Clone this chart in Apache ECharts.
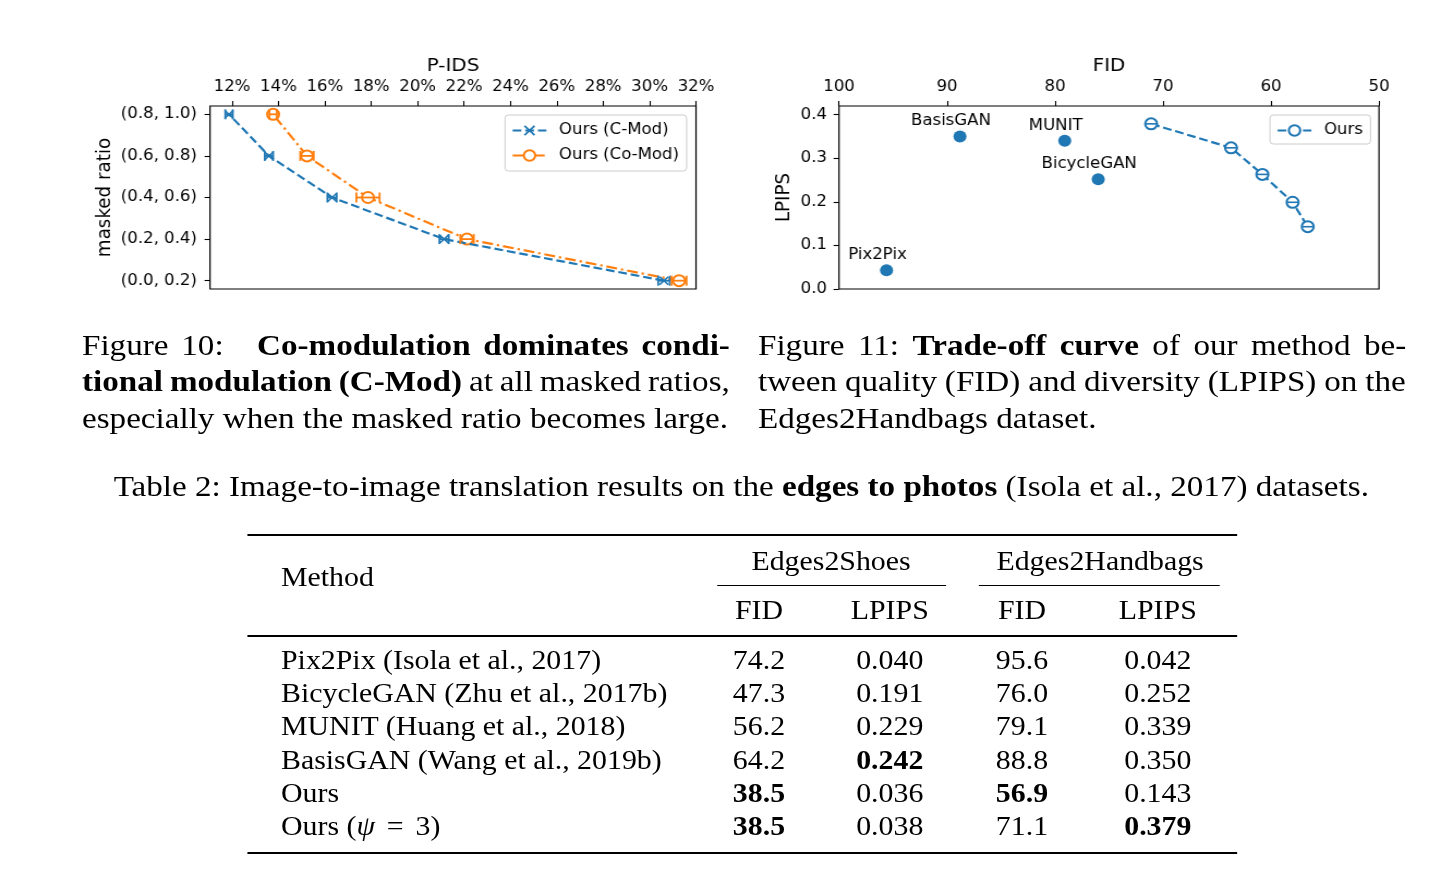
<!DOCTYPE html>
<html>
<head>
<meta charset="utf-8">
<script src="https://cdn.jsdelivr.net/npm/echarts@6/dist/echarts.min.js"></script>
<style>
  html, body { margin: 0; padding: 0; background: #fff; width: 1435px; height: 892px; overflow: hidden; }
  #page { position: absolute; left: 0; top: 0; width: 1317px; height: 892px; transform: scaleX(1.09); transform-origin: 0 0; }
  #chart { position: absolute; left: 0; top: 0; width: 1317px; height: 315px; }
  .serif { font-family: 'Liberation Serif', 'Times New Roman', serif; color: #000; }
  .abs { position: absolute; white-space: nowrap; }
  .rule { position: absolute; background: #000; }
</style>
</head>
<body>
<div id="page">
  <div id="chart"></div>
  <div id="text" class="serif"></div>
</div>
<script>
// ---------------- data ----------------
const maskCats = ['(0.0, 0.2)', '(0.2, 0.4)', '(0.4, 0.6)', '(0.6, 0.8)', '(0.8, 1.0)'];
const maskIdx = [0, 1, 2, 3, 4];
const cmodPIDS = [30.62, 21.14, 16.31, 13.59, 11.87];
const cmodErr = [0.25, 0.20, 0.20, 0.18, 0.16];
const comodPIDS = [31.27, 22.13, 17.86, 15.23, 13.77];
const comodErr = [0.32, 0.29, 0.50, 0.29, 0.16];
const pidsTicks = [12, 14, 16, 18, 20, 22, 24, 26, 28, 30, 32];

const baseNames = ['Pix2Pix', 'BicycleGAN', 'MUNIT', 'BasisGAN'];
const baseFID = [95.6, 76.0, 79.1, 88.8];
const baseLPIPS = [0.043, 0.252, 0.340, 0.350];
const oursFID = [71.1, 63.7, 60.8, 58.0, 56.6];
const oursLPIPS = [0.379, 0.324, 0.263, 0.199, 0.143];
const lpipsTicks = [0, 0.1, 0.2, 0.3, 0.4];

const tblMethods = ['Pix2Pix (Isola et al., 2017)', 'BicycleGAN (Zhu et al., 2017b)', 'MUNIT (Huang et al., 2018)',
  'BasisGAN (Wang et al., 2019b)', 'Ours', 'Ours (<i>ψ</i> <span style="margin:0 4px">=</span> 3)'];
const shoesFID = ['74.2', '47.3', '56.2', '64.2', '38.5', '38.5'];
const shoesLPIPS = ['0.040', '0.191', '0.229', '0.242', '0.036', '0.038'];
const bagsFID = ['95.6', '76.0', '79.1', '88.8', '56.9', '71.1'];
const bagsLPIPS = ['0.042', '0.252', '0.339', '0.350', '0.143', '0.379'];
const boldCells = [[3, 1], [4, 0], [4, 2], [5, 0], [5, 3]];

// ---------------- chart ----------------
const S = 1.09;
const X = v => v / S;
const BLUE = '#1f77b4', ORANGE = '#ff7f0e';
const xPath = 'path://M0,1.2L1.2,0L5,3.8L8.8,0L10,1.2L6.2,5L10,8.8L8.8,10L5,6.2L1.2,10L0,8.8L3.8,5Z';
const TICK = 15.2, NAME = 18.3;

function errRender(color) {
  return function (params, api) {
    const x = api.value(0), y = api.value(1), e = api.value(2);
    const p1 = api.coord([x - e, y]), p2 = api.coord([x + e, y]);
    const st = { stroke: color, lineWidth: 1.8 };
    return { type: 'group', children: [
      { type: 'line', shape: { x1: p1[0], y1: p1[1], x2: p2[0], y2: p2[1] }, style: st },
      { type: 'line', shape: { x1: p1[0], y1: p1[1] - 5, x2: p1[0], y2: p1[1] + 5 }, style: st },
      { type: 'line', shape: { x1: p2[0], y1: p2[1] - 5, x2: p2[0], y2: p2[1] + 5 }, style: st }
    ] };
  };
}
function barRender(color) {
  return function (params, api) {
    const p = api.coord([api.value(0), api.value(1)]);
    return { type: 'line', shape: { x1: p[0] - 5, y1: p[1], x2: p[0] + 5, y2: p[1] }, style: { stroke: color, lineWidth: 1.6 } };
  };
}

const axisCommon = {
  axisLine: { show: false, onZero: false },
  splitLine: { show: false },
  nameTextStyle: { fontSize: NAME, color: '#000', fontFamily: 'DejaVu Sans' },
};
const tickStyle = { show: true, length: 5, lineStyle: { color: '#000', width: 1.1 } };
const labelStyle = { fontSize: TICK, color: '#000', fontFamily: 'DejaVu Sans' };
const ylabelStyle = Object.assign({}, labelStyle, { padding: [3, 0, 0, 0] });

const legendCommon = {
  orient: 'vertical', padding: [8, 7, 8, 6], itemGap: 10, itemWidth: 31, itemHeight: 13,
  backgroundColor: 'rgba(255,255,255,0.8)', borderColor: '#cccccc', borderWidth: 1, borderRadius: 3,
  selectedMode: false,
  textStyle: { fontSize: TICK, color: '#000', fontFamily: 'DejaVu Sans', padding: [0, 0, 0, 6.5] }
};

const option = {
  animation: false,
  textStyle: { fontFamily: 'DejaVu Sans' },
  grid: [
    { left: X(210), top: 106, width: X(696) - X(210), height: 183, show: true, borderColor: '#000', borderWidth: 1.2 },
    { left: X(839), top: 106, width: X(1379) - X(839), height: 183, show: true, borderColor: '#000', borderWidth: 1.2 }
  ],
  legend: [
    Object.assign({}, legendCommon, { data: ['Ours (C-Mod)', 'Ours (Co-Mod)'], left: X(505), top: 115 }),
    Object.assign({}, legendCommon, { data: ['Ours'], left: X(1270), top: 115, padding: [8, 7, 6, 6] })
  ],
  xAxis: [
    Object.assign({}, axisCommon, {
      gridIndex: 0, type: 'value', position: 'top', min: 11.05, max: 32,
      name: 'P-IDS', nameLocation: 'middle', nameGap: 31,
      axisTick: Object.assign({}, tickStyle, { customValues: pidsTicks }),
      axisLabel: Object.assign({}, labelStyle, { customValues: pidsTicks, formatter: v => v + '%', margin: 11 })
    }),
    Object.assign({}, axisCommon, {
      gridIndex: 1, type: 'value', position: 'top', inverse: true, min: 50, max: 100, interval: 10,
      name: 'FID', nameLocation: 'middle', nameGap: 31,
      axisTick: tickStyle,
      axisLabel: Object.assign({}, labelStyle, { margin: 11 })
    })
  ],
  yAxis: [
    Object.assign({}, axisCommon, {
      gridIndex: 0, type: 'value', min: -0.2, max: 4.2,
      name: 'masked ratio', nameLocation: 'middle', nameGap: 87,
      axisTick: Object.assign({}, tickStyle, { customValues: maskIdx }),
      axisLabel: Object.assign({}, ylabelStyle, { customValues: maskIdx, formatter: v => maskCats[Math.round(v)], margin: 12 })
    }),
    Object.assign({}, axisCommon, {
      gridIndex: 1, type: 'value', min: 0, max: 0.42,
      name: 'LPIPS', nameLocation: 'middle', nameGap: 41,
      axisTick: Object.assign({}, tickStyle, { customValues: lpipsTicks }),
      axisLabel: Object.assign({}, ylabelStyle, { customValues: lpipsTicks, formatter: v => v.toFixed(1), margin: 11 })
    })
  ],
  series: [
    {
      name: 'Ours (C-Mod)', type: 'line', xAxisIndex: 0, yAxisIndex: 0, z: 3,
      data: cmodPIDS.map((v, i) => [v, maskIdx[i]]),
      symbol: xPath, symbolSize: 9,
      lineStyle: { color: BLUE, width: 2.2, type: [8, 3.6] },
      itemStyle: { color: BLUE }
    },
    {
      name: 'Ours (Co-Mod)', type: 'line', xAxisIndex: 0, yAxisIndex: 0, z: 2,
      data: comodPIDS.map((v, i) => [v, maskIdx[i]]),
      symbol: 'emptyCircle', symbolSize: 11,
      lineStyle: { color: ORANGE, width: 2.2, type: [10, 3.6, 2.2, 3.6] },
      itemStyle: { color: ORANGE, borderColor: ORANGE, borderWidth: 1.8 }
    },
    {
      type: 'custom', xAxisIndex: 0, yAxisIndex: 0, z: 4, silent: true,
      data: cmodPIDS.map((v, i) => [v, maskIdx[i], cmodErr[i]]),
      encode: { x: 0, y: 1 }, renderItem: errRender(BLUE)
    },
    {
      type: 'custom', xAxisIndex: 0, yAxisIndex: 0, z: 4, silent: true,
      data: comodPIDS.map((v, i) => [v, maskIdx[i], comodErr[i]]),
      encode: { x: 0, y: 1 }, renderItem: errRender(ORANGE)
    },
    {
      name: 'baselines', type: 'scatter', xAxisIndex: 1, yAxisIndex: 1,
      data: baseFID.map((v, i) => ({ name: baseNames[i], value: [v, baseLPIPS[i]] })),
      symbolSize: 12, itemStyle: { color: BLUE, opacity: 1 },
      label: { show: true, formatter: '{b}', position: 'top', distance: 1.5, offset: [-8.3, 0],
        fontSize: TICK, color: '#000', fontFamily: 'DejaVu Sans' }
    },
    {
      name: 'Ours', type: 'line', xAxisIndex: 1, yAxisIndex: 1,
      data: oursFID.map((v, i) => [v, oursLPIPS[i]]),
      symbol: 'emptyCircle', symbolSize: 11,
      lineStyle: { color: BLUE, width: 2.2, type: [8, 3.6] },
      itemStyle: { color: BLUE, borderColor: BLUE, borderWidth: 1.6 }
    },
    {
      type: 'custom', xAxisIndex: 1, yAxisIndex: 1, z: 4, silent: true,
      data: oursFID.map((v, i) => [v, oursLPIPS[i]]),
      encode: { x: 0, y: 1 }, renderItem: barRender(BLUE)
    }
  ]
};
const chart = echarts.init(document.getElementById('chart'), null, { renderer: 'canvas' });
chart.setOption(option);

// ---------------- captions & table ----------------
const T = document.getElementById('text');
function addText(html, opts) {
  const d = document.createElement('div');
  d.className = 'abs';
  d.style.fontSize = opts.fs + 'px';
  d.style.lineHeight = (opts.lh || opts.fs) + 'px';
  d.style.top = opts.top + 'px';
  d.innerHTML = html;
  T.appendChild(d);
  if (opts.center !== undefined) {
    const w = d.offsetWidth;
    d.style.left = (opts.center - w / 2) + 'px';
  } else {
    d.style.left = opts.left + 'px';
  }
  if (opts.justify) {
    const w = d.offsetWidth;
    const n = (d.textContent.match(/ /g) || []).length;
    if (n > 0) d.style.wordSpacing = ((opts.justify - w) / n) + 'px';
  }
  return d;
}
function addRule(x1, x2, y, h) {
  const r = document.createElement('div');
  r.className = 'rule';
  r.style.left = x1 + 'px'; r.style.width = (x2 - x1) + 'px';
  r.style.top = y + 'px'; r.style.height = h + 'px';
  T.appendChild(r);
}

const CAP = 30.4, CAPLH = 36.5;
const cap1 = [
  'Figure 10:<span style="display:inline-block;width:19px"></span> <b>Co-modulation dominates condi-</b>',
  '<b>tional modulation (C-Mod)</b> at all masked ratios,',
  'especially when the masked ratio becomes large.'
];
const cap2 = [
  'Figure 11: <b>Trade-off curve</b> of our method be-',
  'tween quality (FID) and diversity (LPIPS) on the',
  'Edges2Handbags dataset.'
];
const capTop = 326.5;
cap1.forEach((s, i) => addText(s, { fs: CAP, lh: CAPLH, top: capTop + i * CAPLH, left: X(82), justify: i < 2 ? X(730) - X(82) : undefined }));
cap2.forEach((s, i) => addText(s, { fs: CAP, lh: CAPLH, top: capTop + i * CAPLH, left: X(758), justify: i < 2 ? X(1406) - X(758) : undefined }));

addText('Table 2: Image-to-image translation results on the <b>edges to photos</b> (Isola et al., 2017) datasets.',
  { fs: CAP, lh: CAPLH, top: 486 - 18.5, center: X(741.5) });

const TF = 27.4;
const TL = X(247), TR = X(1237);
addRule(TL, TR, 533.5, 2.6);
addRule(X(717), X(946), 585, 1.0);
addRule(X(979), X(1220), 585, 1.0);
addRule(TL, TR, 635, 1.6);
addRule(TL, TR, 851.5, 2.6);

const off = 13;
const colC = [X(759), X(890), X(1022), X(1158)];
addText('Method', { fs: TF, top: 577 - off, left: X(281) });
addText('Edges2Shoes', { fs: TF, top: 561 - off, center: X(831) });
addText('Edges2Handbags', { fs: TF, top: 561 - off, center: X(1100) });
['FID', 'LPIPS', 'FID', 'LPIPS'].forEach((h, j) => addText(h, { fs: TF, top: 610 - off, center: colC[j] }));

const rowY = [660, 693.2, 726.4, 759.6, 792.8, 826];
const cols = [shoesFID, shoesLPIPS, bagsFID, bagsLPIPS];
tblMethods.forEach((m, i) => {
  addText(m, { fs: TF, top: rowY[i] - off, left: X(281) });
  cols.forEach((c, j) => {
    const bold = boldCells.some(b => b[0] === i && b[1] === j);
    addText(bold ? '<b>' + c[i] + '</b>' : c[i], { fs: TF, top: rowY[i] - off, center: colC[j] });
  });
});
</script>
</body>
</html>
